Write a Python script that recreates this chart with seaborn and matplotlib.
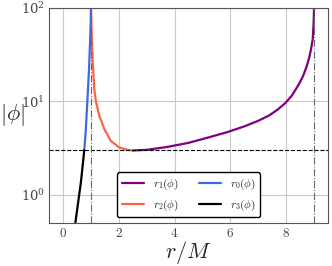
import matplotlib
matplotlib.use("Agg")
import matplotlib.pyplot as plt
import seaborn as sns

# curve samples (r/M, |phi|)
r1_r = [2.5, 3.0, 3.7, 4.5, 5.2, 5.9, 6.5, 7.0, 7.4, 7.7, 7.97, 8.2, 8.44, 8.6, 8.73, 8.82, 8.89, 8.95, 8.98, 9.0]
r1_phi = [2.98, 3.03, 3.24, 3.6, 4.1, 4.7, 5.4, 6.2, 7.1, 8.2, 9.6, 11.5, 15, 18.5, 23.5, 29, 36, 46, 65, 100]

r2_r = [1.0, 1.015, 1.03, 1.06, 1.12, 1.18, 1.30, 1.48, 1.71, 2.01, 2.31, 2.5]
r2_phi = [100, 70, 50, 28, 13.4, 9.9, 7.0, 5.04, 3.78, 3.21, 3.03, 2.98]

r0_r = [0.76, 0.81, 0.87, 0.93, 0.97, 0.99, 1.0]
r0_phi = [3.0, 4.7, 10, 22, 45, 70, 100]

r3_r = [0.44, 0.64, 0.76]
r3_phi = [0.5, 1.37, 3.0]

phi_level = 3.0
asymptotes = [1.0, 9.0]

sns.set_style("white")
plt.rcParams["font.family"] = "serif"
plt.rcParams["font.serif"] = ["DejaVu Serif"]
plt.rcParams["mathtext.fontset"] = "cm"

fig = plt.figure(figsize=(3.32, 2.66), dpi=100)
ax = fig.add_axes([0.148, 0.162, 0.84, 0.808])

ax.grid(True, color="#c8c8c8", lw=0.8)
ax.set_axisbelow(True)

sns.lineplot(x=r1_r, y=r1_phi, sort=False, color="purple", lw=1.6, label=r"$r_1(\phi)$", ax=ax)
sns.lineplot(x=r2_r, y=r2_phi, sort=False, color="tomato", lw=1.6, label=r"$r_2(\phi)$", ax=ax)
sns.lineplot(x=r0_r, y=r0_phi, sort=False, color="royalblue", lw=1.6, label=r"$r_0(\phi)$", ax=ax)
sns.lineplot(x=r3_r, y=r3_phi, sort=False, color="black", lw=1.6, label=r"$r_3(\phi)$", ax=ax)

ax.axhline(phi_level, color="black", ls="--", lw=0.8)
for a in asymptotes:
    ax.axvline(a, color="dimgray", ls="-.", lw=0.8)

ax.set_yscale("log")
ax.set_xlim(-0.5, 9.5)
ax.set_ylim(0.5, 100)
ax.set_xticks([0, 2, 4, 6, 8])
ax.set_xticklabels([r"$0$", r"$2$", r"$4$", r"$6$", r"$8$"])
ax.tick_params(direction="in", which="both", labelsize=9.5, pad=3, colors="#444444")
ax.tick_params(which="minor", length=2)
for s in ax.spines.values():
    s.set_color("#555555")

ax.set_xlabel(r"$r/M$", fontsize=16, labelpad=-1)
ax.set_ylabel(r"$|\phi|$", fontsize=16, rotation=0, va="center", ha="right")
ax.yaxis.set_label_coords(-0.088, 0.5)

ax.legend(loc="lower center", ncol=2, fontsize=8, frameon=True, edgecolor="black",
          fancybox=True, framealpha=1, handlelength=2.0, columnspacing=1.8)

fig.savefig("out.png", dpi=100)
